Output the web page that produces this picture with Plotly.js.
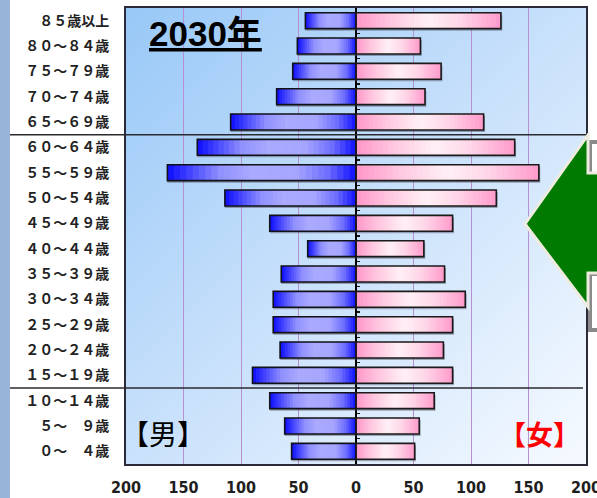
<!DOCTYPE html>
<html>
<head>
<meta charset="utf-8">
<script src="https://cdn.plot.ly/plotly-3.0.1.min.js"></script>
<style>
html,body{margin:0;padding:0;background:#fff;}
#chart{width:597px;height:498px;}
</style>
</head>
<body>
<div id="chart"></div>
<script>
// ---- data ----
const ageLabels = ['８５歳以上','８０～８４歳','７５～７９歳','７０～７４歳','６５～６９歳','６０～６４歳','５５～５９歳','５０～５４歳','４５～４９歳','４０～４４歳','３５～３９歳','３０～３４歳','２５～２９歳','２０～２４歳','１５～１９歳','１０～１４歳','５～　９歳','０～　４歳'];
const male   = [44, 51, 55, 69, 109, 138, 164, 114, 75, 42, 65, 72, 72, 66, 90, 75, 62, 56];
const female = [126, 56, 74, 60, 111, 138, 159, 122, 84, 59, 77, 95, 84, 76, 84, 68, 55, 51];
const xTickVals = [-200, -150, -100, -50, 0, 50, 100, 150, 200];
const xTickText = ['200', '150', '100', '50', '0', '50', '100', '150', '200'];
const titleText = '2030年';
const maleLabel = '【男】';
const femaleLabel = '【女】';

// ---- layout geometry ----
const W = 597, H = 498;
const M = {l: 126, r: 11, t: 8, b: 34};
const PW = W - M.l - M.r, PH = H - M.t - M.b;
const px = x => (x - M.l) / PW;
const py = y => 1 - (y - M.t) / PH;

const yIdx = ageLabels.map((_, i) => i);
const BAR_W = 0.63;

function hexToRgb(h){return [parseInt(h.substr(1,2),16),parseInt(h.substr(3,2),16),parseInt(h.substr(5,2),16)];}
function gradColor(stops, t){
  for (let i = 0; i < stops.length - 1; i++){
    const [t0,c0] = stops[i], [t1,c1] = stops[i+1];
    if (t >= t0 && t <= t1){
      const f = (t - t0) / (t1 - t0 || 1);
      const a = hexToRgb(c0), b = hexToRgb(c1);
      return 'rgb(' + a.map((v,j)=>Math.round(v + (b[j]-v)*f)).join(',') + ')';
    }
  }
  return stops[stops.length-1][1];
}
// male: t from outer end (0) to zero end (1)
const maleStops = [[0,'#0c0cff'],[0.28,'#9090ff'],[0.45,'#aaaaff'],[0.68,'#a6a6ff'],[0.85,'#6e6eff'],[1,'#1010ff']];
// female: t from zero end (0) to outer end (1)
const femaleStops = [[0,'#ff96c8'],[0.22,'#ffc4de'],[0.5,'#fff0f6'],[0.72,'#ffd6e8'],[1,'#ff9acb']];

const N = 30;
const traces = [];
// shadows
traces.push({type:'bar', orientation:'h', y:yIdx, x:male.map(v=>-v), base:0, width:BAR_W, offset:-BAR_W/2+0.08,
  marker:{color:'rgba(70,70,90,0.45)', line:{width:0}}, hoverinfo:'skip', showlegend:false});
traces.push({type:'bar', orientation:'h', y:yIdx, x:female.map(v=>v+1.2), base:0, width:BAR_W, offset:-BAR_W/2+0.08,
  marker:{color:'rgba(70,70,90,0.45)', line:{width:0}}, hoverinfo:'skip', showlegend:false});
for (let k = 0; k < N; k++){
  const frac = (N - k) / N;
  traces.push({type:'bar', orientation:'h', y:yIdx, x:male.map(v=>-v*frac), base:0, width:BAR_W, offset:-BAR_W/2,
    marker:{color:gradColor(maleStops,(k+0.5)/N), line:{width:0}}, hoverinfo:'skip', showlegend:false});
  traces.push({type:'bar', orientation:'h', y:yIdx, x:female.map(v=>v*frac), base:0, width:BAR_W, offset:-BAR_W/2,
    marker:{color:gradColor(femaleStops,(N-k-0.5)/N), line:{width:0}}, hoverinfo:'skip', showlegend:false});
}
// outlines
traces.push({type:'bar', orientation:'h', y:yIdx, x:male.map(v=>-v), base:0, width:BAR_W, offset:-BAR_W/2,
  marker:{color:'rgba(0,0,0,0)', line:{width:1.6, color:'#111118'}}, hoverinfo:'skip', showlegend:false});
traces.push({type:'bar', orientation:'h', y:yIdx, x:female, base:0, width:BAR_W, offset:-BAR_W/2,
  marker:{color:'rgba(0,0,0,0)', line:{width:1.6, color:'#1a1a1a'}}, hoverinfo:'skip', showlegend:false});
// dummy for the small zero-axis ticks
traces.push({type:'scatter', mode:'markers', x:[0], y:[0], yaxis:'y2', marker:{opacity:0}, hoverinfo:'skip', showlegend:false});

const bgSvg = '<svg xmlns="http://www.w3.org/2000/svg" width="100" height="100" preserveAspectRatio="none" viewBox="0 0 100 100">' +
  '<defs><linearGradient id="g" x1="0" y1="0" x2="1" y2="1">' +
  '<stop offset="0" stop-color="#98c8f7"/><stop offset="0.5" stop-color="#c9e1fb"/><stop offset="1" stop-color="#f6faff"/>' +
  '</linearGradient></defs><rect width="100" height="100" fill="url(#g)"/></svg>';
const bgSrc = 'data:image/svg+xml;charset=utf-8,' + encodeURIComponent(bgSvg);

const arrowPath = 'M ' + px(525) + ' ' + py(224) + ' L ' + px(588) + ' ' + py(135) + ' L ' + px(588) + ' ' + py(173) +
  ' L ' + px(605) + ' ' + py(173) + ' L ' + px(605) + ' ' + py(273) + ' L ' + px(588) + ' ' + py(273) +
  ' L ' + px(588) + ' ' + py(307) + ' Z';

const layout = {
  width: W, height: H,
  margin: M,
  paper_bgcolor: '#ffffff',
  plot_bgcolor: 'rgba(0,0,0,0)',
  barmode: 'overlay',
  showlegend: false,
  hovermode: false,
  images: [{source: bgSrc, xref:'paper', yref:'paper', x:0, y:1, sizex:1, sizey:1, sizing:'stretch', xanchor:'left', yanchor:'top', layer:'below'}],
  xaxis: {
    range: [-200, 200], fixedrange: true,
    tickvals: xTickVals, ticktext: xTickText,
    showgrid: true, gridcolor: '#b690d2', gridwidth: 1,
    zeroline: true, zerolinecolor: '#000000', zerolinewidth: 1.5,
    showline: true, mirror: true, linecolor: '#2a2a38', linewidth: 2,
    ticks: '', ticklabelstandoff: 8, ticklabeloverflow: 'allow',
    tickfont: {family: '"Liberation Sans Narrow", "Arial Narrow", "DejaVu Sans Condensed", sans-serif', size: 16, color: '#1e1e1e', weight: 'bold'}
  },
  yaxis: {
    range: [17.5, -0.5], fixedrange: true,
    tickvals: yIdx, ticktext: ageLabels,
    showgrid: false, zeroline: false,
    showline: true, mirror: true, linecolor: '#2a2a38', linewidth: 2,
    ticks: '', ticklabelstandoff: 12,
    tickfont: {family: '"Noto Sans CJK JP", sans-serif', size: 14, color: '#222222', weight: 'bold'}
  },
  yaxis2: {
    overlaying: 'y', anchor: 'free', position: 0.5, side: 'right',
    range: [17.5, -0.5], fixedrange: true,
    tickvals: yIdx.slice(0, -1).map(v => v + 0.5),
    ticks: 'outside', ticklen: 3, tickwidth: 1.5, tickcolor: '#111',
    showticklabels: false, showgrid: false, zeroline: false, showline: false
  },
  shapes: [
    {type:'rect', xref:'paper', yref:'paper', x0:px(0), x1:px(10), y0:py(H+2), y1:py(-2), fillcolor:'#98b4d8', line:{width:0}, layer:'above'},
    {type:'line', xref:'paper', yref:'y', x0:px(10), x1:1, y0:4.5, y1:4.5, line:{color:'#2a2a30', width:1.5}},
    {type:'line', xref:'paper', yref:'y', x0:px(10), x1:px(583), y0:14.5, y1:14.5, line:{color:'#2a2a30', width:1.5}},
    {type:'rect', xref:'paper', yref:'paper', x0:px(590), x1:px(612), y0:py(175), y1:py(142), fillcolor:'#ffffff', line:{color:'#8a8a8a', width:4}, layer:'above'},
    {type:'rect', xref:'paper', yref:'paper', x0:px(590), x1:px(612), y0:py(330), y1:py(274), fillcolor:'#ffffff', line:{color:'#8a8a8a', width:4}, layer:'above'},
    {type:'path', xref:'paper', yref:'paper', path: arrowPath, fillcolor:'#007a00', line:{color:'#eeebe0', width:3}, layer:'above'}
  ],
  annotations: [
    {xref:'paper', yref:'paper', x:px(205), y:py(33), xanchor:'center', yanchor:'middle', showarrow:false,
      text:'<b><u>' + titleText + '</u></b>', font:{family:'"Liberation Sans", Arial, "Noto Sans CJK JP", sans-serif', size:35, color:'#000'}},
    {xref:'paper', yref:'paper', x:px(163), y:py(433), xanchor:'center', yanchor:'middle', showarrow:false,
      text: maleLabel, font:{family:'"Noto Sans CJK JP", sans-serif', size:28, color:'#000'}},
    {xref:'paper', yref:'paper', x:px(539), y:py(433), xanchor:'center', yanchor:'middle', showarrow:false,
      text: '<b>' + femaleLabel + '</b>', font:{family:'"Noto Sans CJK JP", sans-serif', size:27, color:'#ff0000'}}
  ]
};

Plotly.newPlot('chart', traces, layout, {staticPlot: true, displayModeBar: false});
</script>
</body>
</html>
